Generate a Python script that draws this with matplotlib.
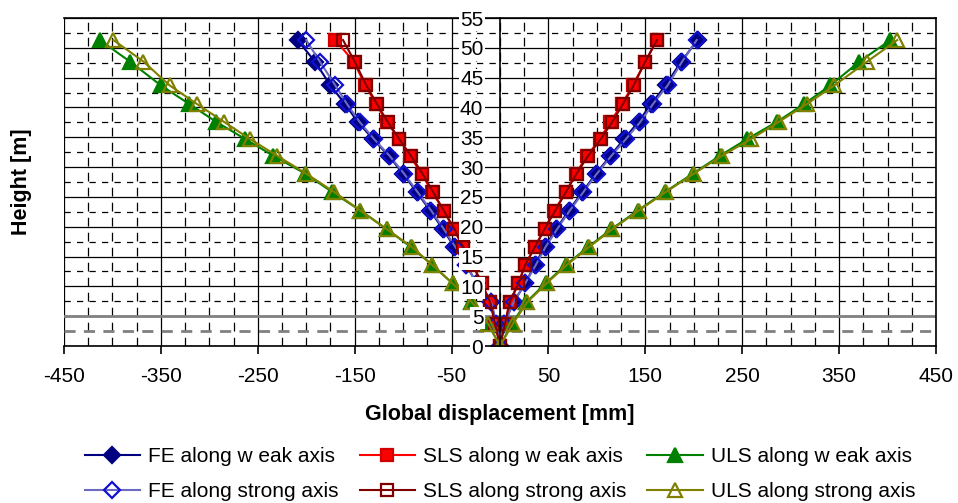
import numpy as np
import matplotlib
matplotlib.use("Agg")
import matplotlib.pyplot as plt

plt.rcParams['font.family'] = ['Liberation Sans', 'DejaVu Sans']
plt.rcParams['axes.unicode_minus'] = False

# storey heights [m], bottom-up
heights = [0, 3.67, 7.33, 10.5, 13.6, 16.6, 19.6, 22.7, 25.8, 28.9, 31.9,
           34.7, 37.6, 40.6, 43.7, 47.7, 51.3]

# displacements [mm] on the negative side (from 3.67 m upward)
fe_weak_neg = [-4, -9, -24, -35, -47, -59, -72, -86, -100, -115, -131, -147, -160, -175, -191, -209]
fe_strong_neg = [-4, -9, -24, -35, -46, -58, -71, -85, -99, -114, -130, -145, -158, -170, -186, -200]
sls_weak_neg = [-5, -10, -19, -28, -38, -48, -58, -70, -81, -93, -104, -117, -128, -139, -151, -170]
sls_strong_neg = [-5, -10, -19, -28, -38, -47, -58, -69, -80, -92, -104, -116, -127, -138, -150, -162]
uls_weak_neg = [-12, -30, -49, -70, -92, -117, -144, -173, -201, -234, -263, -293, -321, -350, -382, -413]
uls_strong_neg = [-12, -29, -49, -70, -91, -117, -144, -171, -200, -230, -258, -285, -313, -341, -368, -399]

# displacements [mm] on the positive side (from 0 m upward)
fe_weak_pos = [0, 4, 14, 26, 36, 46, 58, 71, 85, 99, 114, 128, 143, 156, 171, 187, 204]
fe_strong_pos = [0, 4, 14, 26, 37, 47, 59, 72, 86, 100, 115, 130, 145, 158, 173, 188, 203]
sls_weak_pos = [0, 5, 10, 19, 26, 36, 46, 56, 68, 78, 90, 103, 114, 126, 137, 150, 162]
sls_strong_pos = [0, 5, 10, 19, 26, 36, 46, 57, 68, 79, 91, 104, 116, 127, 138, 150, 162]
uls_weak_pos = [0, 12, 27, 47, 68, 91, 115, 142, 170, 199, 227, 255, 286, 314, 341, 371, 403]
uls_strong_pos = [0, 13, 28, 48, 69, 92, 116, 143, 171, 200, 229, 259, 288, 317, 345, 379, 410]

x_ticks = list(range(-450, 451, 100))
y_ticks = list(range(0, 56, 5))


def profile(neg, pos):
    xs = neg[::-1] + pos
    ys = heights[1:][::-1] + heights
    return xs, ys


series = [
    # label, neg, pos, line colour, marker, face, edge, size
    ("FE along w eak axis", fe_weak_neg, fe_weak_pos, "#000080", "D", "#000080", "#000080", 8.5),
    ("SLS along w eak axis", sls_weak_neg, sls_weak_pos, "#FF0000", "s", "#FF0000", "#D00000", 9),
    ("ULS along w eak axis", uls_weak_neg, uls_weak_pos, "#008000", "^", "#008000", "#008000", 10),
    ("FE along strong axis", fe_strong_neg, fe_strong_pos, "#6B6BC2", "D", "none", "#1010D0", 8.5),
    ("SLS along strong axis", sls_strong_neg, sls_strong_pos, "#800000", "s", "none", "#800000", 9),
    ("ULS along strong axis", uls_strong_neg, uls_strong_pos, "#808000", "^", "none", "#808000", 10),
]

fig = plt.figure(figsize=(9.58, 5.03), dpi=100)
ax = fig.add_axes([64 / 958, 1 - 346 / 503, 872 / 958, 328 / 503])
ax.set_xlim(-450, 450)
ax.set_ylim(0, 55)

# grid: solid majors, dashed minors
for xv in np.arange(-450, 451, 25):
    if (xv + 450) % 100 == 0:
        ax.axvline(xv, color="black", lw=0.9, zorder=1)
    else:
        ax.axvline(xv, color="black", lw=0.9, ls=(0, (7, 5)), zorder=1)
for yv in np.arange(0, 55.1, 2.5):
    if yv in (2.5, 5):
        continue
    if yv % 5 == 0:
        ax.axhline(yv, color="black", lw=0.9, zorder=1)
    else:
        ax.axhline(yv, color="black", lw=0.9, ls=(0, (5, 5)), zorder=1)
ax.axhline(5, color="#808080", lw=2, zorder=1.2)
ax.axhline(2.5, color="#808080", lw=2, ls=(0, (4, 3)), zorder=1.2)

handles = {}
for label, neg, pos, lc, mk, mf, me, ms in series:
    xs, ys = profile(neg, pos)
    h, = ax.plot(xs, ys, color=lc, lw=1.5, marker=mk, ms=ms, mfc=mf, mec=me,
                 mew=1.6, zorder=2, label=label)
    handles[label] = h

ax.set_axisbelow(False)
ax.spines['left'].set_position(('data', 0))
for s in ax.spines.values():
    s.set_linewidth(1.2)
    s.set_color("black")

ax.set_xticks(x_ticks)
ax.set_yticks(y_ticks)
ax.tick_params(axis='x', direction='out', length=6, width=1.2, pad=9, labelsize=15)
ax.tick_params(axis='y', length=0, pad=12, labelsize=15)
for t in ax.get_yticklabels():
    t.set_bbox(dict(facecolor="white", edgecolor="none", pad=1))

ax.set_xlabel("Global displacement [mm]", fontsize=15.5, fontweight="bold", labelpad=13)
ax.set_ylabel("Height [m]", fontsize=15.5, fontweight="bold")
ax.yaxis.set_label_coords(-0.037, 0.5)

order = ["FE along w eak axis", "FE along strong axis",
         "SLS along w eak axis", "SLS along strong axis",
         "ULS along w eak axis", "ULS along strong axis"]
fig.legend([handles[k] for k in order], order, loc="center",
           bbox_to_anchor=(0.522, 1 - 474 / 503), ncol=3, frameon=False,
           fontsize=15, handlelength=2.65, handletextpad=0.4,
           columnspacing=1.0, labelspacing=0.75)

fig.savefig("out.png", dpi=100)
